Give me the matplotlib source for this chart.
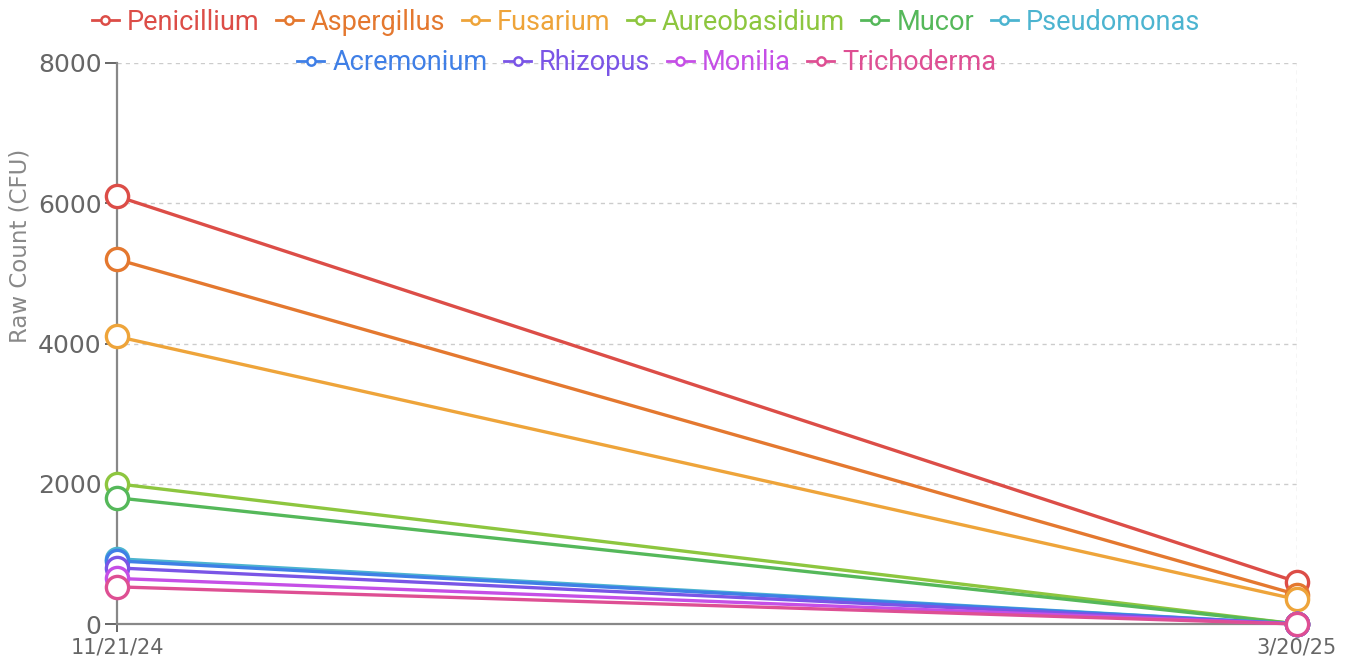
import matplotlib
matplotlib.use("Agg")
import matplotlib.pyplot as plt
from matplotlib.lines import Line2D

dates = ["11/21/24", "3/20/25"]
species = ["Penicillium", "Aspergillus", "Fusarium", "Aureobasidium", "Mucor",
           "Pseudomonas", "Acremonium", "Rhizopus", "Monilia", "Trichoderma"]
start_counts = [6100, 5200, 4100, 2000, 1800, 930, 900, 800, 650, 530]
end_counts = [600, 420, 350, 0, 0, 0, 0, 0, 0, 0]
colors = ["#dc4d47", "#e4782f", "#eea43a", "#8dc63f", "#55b85a",
          "#4cb4d0", "#3f7fe6", "#7a55e6", "#c54fe6", "#de4f93"]
yticks = [0, 2000, 4000, 6000, 8000]

plt.rcParams['font.family'] = ['Roboto', 'DejaVu Sans']
fig = plt.figure(figsize=(13.51, 6.58), dpi=100)
ax = fig.add_axes([117/1351, 34/658, (1297-117)/1351, (624-63)/658])

x = list(range(len(dates)))
for name, s, e, c in zip(species, start_counts, end_counts, colors):
    ax.plot(x, [s, e], color=c, lw=2.4, marker='o', markersize=16,
            markerfacecolor='white', markeredgecolor=c, markeredgewidth=2.4,
            clip_on=False, zorder=3)

ax.set_xlim(0, 1)
ax.set_ylim(0, 8000)
ax.set_yticks(yticks)
ax.set_yticklabels([str(v) for v in yticks], family='DejaVu Sans', fontsize=18)
ax.set_xticks(x)
ax.set_xticklabels(dates, family='DejaVu Sans', fontsize=15)
ax.tick_params(axis='y', colors='#666666', length=9, width=1.4, pad=2)
ax.tick_params(axis='x', colors='#666666', length=6, width=1.4, pad=4)
ax.set_ylabel("Raw Count (CFU)", fontsize=16.5, family='DejaVu Sans', color='#888888')
ax.yaxis.set_label_coords(-(117-32)/1180, (624-246)/561)
for sp in ['top', 'right']:
    ax.spines[sp].set_visible(False)
for sp in ['left', 'bottom']:
    ax.spines[sp].set_color('#888888')
    ax.spines[sp].set_linewidth(1.6)
ax.grid(True, axis='y', linestyle=(0, (3, 3)), color='#cccccc', lw=1)
ax.axvline(1, linestyle=(0, (3, 3)), color='#cccccc', lw=1, zorder=0)
ax.set_axisbelow(True)

handles = [Line2D([], [], color=c, lw=2, marker='o', markersize=6,
                  markerfacecolor='white', markeredgecolor=c, markeredgewidth=1.8)
           for c in colors]
kw = dict(frameon=False, fontsize=19.5, handlelength=1.0, handletextpad=0.3,
          columnspacing=0.6, labelcolor='linecolor', borderaxespad=0)
leg1 = fig.legend(handles[:6], species[:6], ncol=6, loc='center',
                  bbox_to_anchor=(646/1351, 1-22/658), **kw)
leg2 = fig.legend(handles[6:], species[6:], ncol=4, loc='center',
                  bbox_to_anchor=(647/1351, 1-63/658), **kw)

fig.savefig("out.png", dpi=100, facecolor='white')
